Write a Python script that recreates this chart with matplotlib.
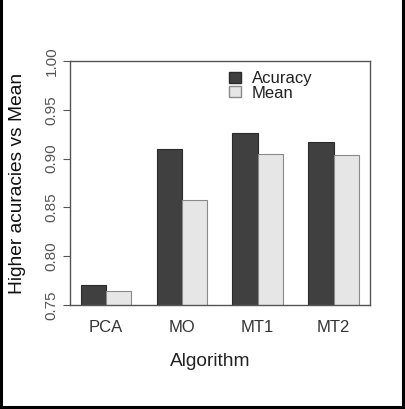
import numpy as np
import matplotlib
matplotlib.use("Agg")
import matplotlib.pyplot as plt
from matplotlib.patches import Patch
from matplotlib.lines import Line2D

algorithms = ["PCA", "MO", "MT1", "MT2"]
accuracy = [0.770, 0.910, 0.9265, 0.917]
mean = [0.764, 0.858, 0.905, 0.904]
yticks = [0.75, 0.80, 0.85, 0.90, 0.95, 1.00]
ytick_labels = ["0.75", "0.80", "0.85", "0.90", "0.95", "1.00"]

dark = "#404040"
light = "#e6e6e6"

plt.rcParams["font.family"] = ["Liberation Sans", "DejaVu Sans"]

fig = plt.figure(figsize=(4.05, 4.09), dpi=100)
ax = fig.add_axes([69.5 / 405, 1 - 305 / 409, 300.5 / 405, 244 / 409])

# R barplot layout: each group = space 1 + two bars of width 1
x = np.arange(len(algorithms)) * 3 + 1
ax.bar(x, accuracy, width=1, align="edge", color=dark, edgecolor="#2a2a2a", linewidth=0.8)
ax.bar(x + 1, mean, width=1, align="edge", color=light, edgecolor="#8a8a8a", linewidth=0.8)

ax.set_xlim(0.56, 12.44)
ax.set_ylim(0.75, 1.00)
ax.set_yticks(yticks)
ax.set_yticklabels(ytick_labels, rotation=90, va="center", fontsize=11, color="#555555")
ax.tick_params(axis="y", length=5, width=0.8, color="#555555", pad=3)
ax.set_xticks(x + 1)
ax.set_xticklabels(algorithms, fontsize=12, color="#333333")
ax.tick_params(axis="x", length=0, pad=11)

for s in ax.spines.values():
    s.set_color("#555555")
    s.set_linewidth(1.0)

ax.set_xlabel("Algorithm", fontsize=13.8, color="#222222", va="center")
ax.xaxis.set_label_coords((210 - 69.5) / 300.5, -(361 - 305) / 244, transform=ax.transAxes)
ax.set_ylabel("Higher acuracies vs Mean", fontsize=13.8, color="#111111", va="center")
ax.yaxis.set_label_coords(-(69.5 - 17.5) / 300.5, 0.5, transform=ax.transAxes)

handles = [Patch(facecolor=dark, edgecolor="#2a2a2a"), Patch(facecolor=light, edgecolor="#8a8a8a")]
ax.legend(handles, ["Acuracy", "Mean"], loc="upper left", bbox_to_anchor=((216 - 69.5) / 300.5, 1.0 + 3 / 244),
          frameon=False, fontsize=12, handlelength=0.7, handleheight=0.6, handletextpad=0.65,
          labelspacing=-0.05, borderpad=0.3, labelcolor="#222222")

# outer black frame (left, right, bottom)
for xs, ys in [([0.003, 0.003], [0, 1]), ([0.995, 0.995], [0, 1]), ([0, 1], [0.005, 0.005])]:
    fig.add_artist(Line2D(xs, ys, transform=fig.transFigure, color="black", linewidth=2.2))

fig.savefig("out.png", dpi=100)
